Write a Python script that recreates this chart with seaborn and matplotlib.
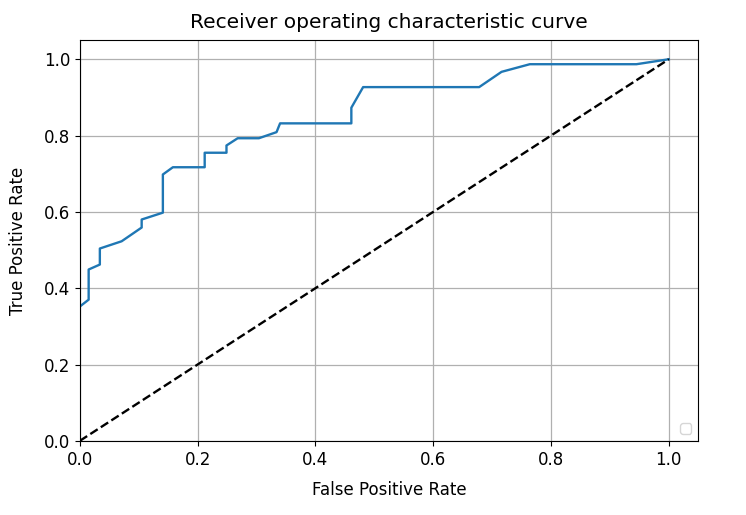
import matplotlib
matplotlib.use("Agg")
import matplotlib.pyplot as plt
import seaborn as sns
import pandas as pd

fpr = [0.0, 0.015, 0.015, 0.034, 0.034, 0.071, 0.105, 0.105, 0.141, 0.141, 0.158,
       0.212, 0.212, 0.249, 0.249, 0.268, 0.304, 0.334, 0.340, 0.461, 0.461, 0.481,
       0.678, 0.716, 0.764, 0.945, 1.0]
tpr = [0.352, 0.37, 0.449, 0.462, 0.504, 0.523, 0.559, 0.58, 0.598, 0.698, 0.717,
       0.717, 0.755, 0.755, 0.774, 0.793, 0.793, 0.809, 0.832, 0.832, 0.873, 0.927,
       0.927, 0.967, 0.987, 0.987, 1.0]
chance = [0.0, 1.0]

title = "Receiver operating characteristic curve"
xlabel = "False Positive Rate"
ylabel = "True Positive Rate"

df = pd.DataFrame({"fpr": fpr, "tpr": tpr})
diag = pd.DataFrame({"x": chance, "y": chance})

fig = plt.figure(figsize=(7.46, 5.15), dpi=100)
ax = fig.add_axes([0.107, 0.144, 0.829, 0.778])

sns.lineplot(data=df, x="fpr", y="tpr", sort=False, estimator=None,
             color="#1f77b4", linewidth=1.7, ax=ax)
sns.lineplot(data=diag, x="x", y="y", sort=False, estimator=None,
             color="black", linestyle="--", linewidth=1.7, ax=ax)

ax.set_xlim(0, 1.05)
ax.set_ylim(0, 1.05)
ax.set_xticks([0, 0.2, 0.4, 0.6, 0.8, 1.0])
ax.set_yticks([0, 0.2, 0.4, 0.6, 0.8, 1.0])
ax.grid(True, color="#b0b0b0", linewidth=0.9)
ax.set_axisbelow(True)
ax.tick_params(labelsize=12)
ax.set_xlabel(xlabel, fontsize=12, labelpad=9)
ax.set_ylabel(ylabel, fontsize=12, labelpad=12)
ax.set_title(title, fontsize=14.5, pad=9)
ax.legend(handles=[], loc="lower right")

fig.savefig("out.png", dpi=100)
